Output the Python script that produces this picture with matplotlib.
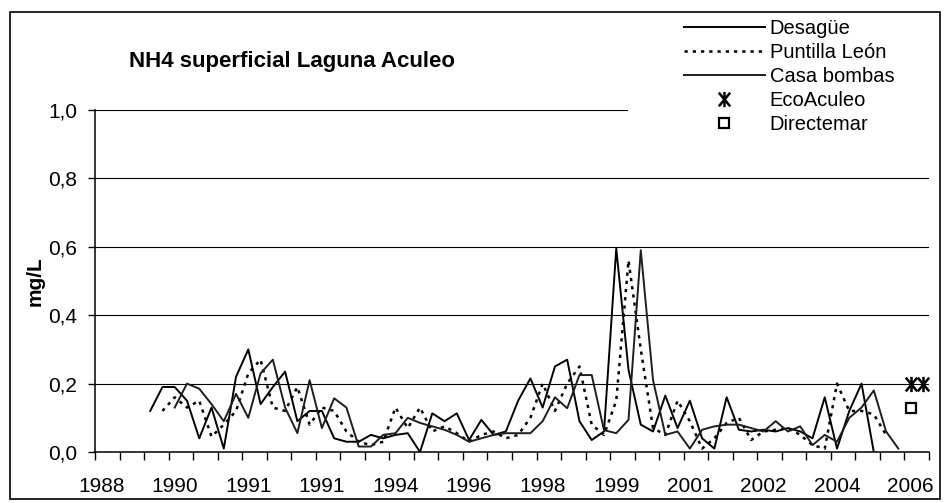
import numpy as np
import matplotlib
matplotlib.use('Agg')
import matplotlib.pyplot as plt
from matplotlib.patches import Rectangle
from matplotlib.path import Path

plt.rcParams['font.family'] = ['Liberation Sans', 'DejaVu Sans']

nan = np.nan
n_cat = 68  # sampling dates (category axis)

# --- data (mg/L NH4), one value per sampling date, NaN = no sample ---
desague = [nan] * 4 + [
    0.12, 0.19, 0.19, 0.15, 0.04, 0.13, 0.01, 0.22, 0.30, 0.14,
    0.19, 0.235, 0.09, 0.12, 0.12, 0.04, 0.03, 0.03, 0.05, 0.04,
    0.05, 0.055, 0.0, 0.113, 0.09, 0.113, 0.035, 0.094, 0.05, 0.06,
    0.15, 0.215, 0.13, 0.25, 0.27, 0.09, 0.035, 0.06, 0.595, 0.24,
    0.08, 0.06, 0.165, 0.07, 0.15, 0.04, 0.01, 0.16, 0.065, 0.06,
    0.065, 0.06, 0.07, 0.06, 0.04, 0.16, 0.01, 0.12, 0.20, 0.0,
] + [nan] * 4

puntilla = [nan] * 5 + [
    0.12, 0.16, 0.13, 0.15, 0.045, 0.08, 0.12, 0.23, 0.27, 0.13,
    0.12, 0.19, 0.08, 0.13, 0.12, 0.06, 0.03, 0.02, 0.03, 0.13,
    0.07, 0.13, 0.06, 0.075, 0.055, 0.03, 0.05, 0.06, 0.04, 0.05,
    0.10, 0.20, 0.12, 0.20, 0.25, 0.08, 0.05, 0.15, 0.56, 0.30,
    0.07, 0.05, 0.15, 0.09, 0.01, 0.04, 0.085, 0.10, 0.035, 0.06,
    0.065, 0.07, 0.05, 0.02, 0.01, 0.20, 0.12, 0.12, 0.11, 0.05,
] + [nan] * 3

casa_bombas = [nan] * 6 + [
    0.13, 0.20, 0.185, 0.14, 0.09, 0.17, 0.10, 0.23, 0.27, 0.13,
    0.055, 0.21, 0.07, 0.157, 0.13, 0.016, 0.016, 0.05, 0.055, 0.10,
    0.085, 0.075, 0.065, 0.05, 0.03, 0.04, 0.05, 0.055, 0.055, 0.055,
    0.09, 0.16, 0.128, 0.225, 0.225, 0.064, 0.055, 0.094, 0.59, 0.21,
    0.05, 0.06, 0.01, 0.065, 0.075, 0.08, 0.08, 0.07, 0.06, 0.09,
    0.06, 0.075, 0.02, 0.05, 0.03, 0.10, 0.13, 0.18, 0.06, 0.01,
] + [nan] * 2

eco_idx = [66, 67]
eco_vals = [0.20, 0.20]
dir_idx = [66]
dir_vals = [0.13]

year_labels = ['1988', '1990', '1991', '1991', '1994', '1996',
               '1998', '1999', '2001', '2002', '2004', '2006']
label_step = 6
y_ticks = [0.0, 0.2, 0.4, 0.6, 0.8, 1.0]

# asterisk-like marker: vertical bar crossed by an X
ast_marker = Path(
    [(0, -1), (0, 1), (-0.75, -0.9), (0.75, 0.9), (-0.75, 0.9), (0.75, -0.9)],
    [Path.MOVETO, Path.LINETO, Path.MOVETO, Path.LINETO, Path.MOVETO, Path.LINETO])

# --- figure ---
W, H = 944, 503
fig = plt.figure(figsize=(W / 100, H / 100), dpi=100)
ax = fig.add_axes([95 / W, 1 - 452 / H, 834 / W, 342 / H])

idx = np.arange(n_cat)
ax.plot(idx, desague, color='black', lw=1.4, label='Desagüe', zorder=3)
ax.plot(idx, puntilla, color='black', lw=1.8, ls=(0, (1.3, 2.0)),
        label='Puntilla León', zorder=3)
ax.plot(idx, casa_bombas, color='#1e1e1e', lw=1.4, label='Casa bombas', zorder=3)
ax.plot(eco_idx, eco_vals, ls='none', marker=ast_marker, ms=11, mew=1.8,
        color='black', label='EcoAculeo', zorder=4)
ax.plot(dir_idx, dir_vals, ls='none', marker='s', ms=6.5, mfc='white',
        mec='black', mew=1.6, label='Directemar', zorder=4)

ax.set_xlim(-0.5, n_cat - 0.5)
ax.set_ylim(0, 1.0)
ax.set_yticks(y_ticks)
ax.set_yticklabels([f'{v:.1f}'.replace('.', ',') for v in y_ticks])
ax.yaxis.grid(True, color='black', lw=0.8)
ax.set_axisbelow(True)

ax.set_xticks(np.arange(-0.5, n_cat, 2))
ax.set_xticklabels([])
ax.set_xticks(np.arange(0, n_cat, label_step), minor=True)
ax.set_xticklabels(year_labels, minor=True)

ax.tick_params(axis='y', direction='out', length=5, width=1, pad=8, labelsize=15)
ax.tick_params(axis='x', which='major', direction='out', length=6, width=1)
ax.tick_params(axis='x', which='minor', length=0, pad=18, labelsize=15)

for s in ['top', 'right']:
    ax.spines[s].set_visible(False)
for s in ['left', 'bottom']:
    ax.spines[s].set_color('black')
    ax.spines[s].set_linewidth(1.1)

ax.set_ylabel('mg/L', fontsize=15, fontweight='bold')
ax.yaxis.set_label_coords((45 - 95) / 834, 0.5)

fig.text(292 / W, 1 - 62 / H, 'NH4 superficial Laguna Aculeo', ha='center',
         va='center', fontsize=16, fontweight='bold')

# white legend background covering top gridline
ax.add_patch(Rectangle((628 / W, 1 - 133 / H), (940 - 628) / W, (133 - 15) / H,
                       transform=fig.transFigure, facecolor='white',
                       edgecolor='none', zorder=1.5, clip_on=False))

leg = ax.legend(loc='upper left', bbox_to_anchor=(684 / W, 1 - 19 / H),
                bbox_transform=fig.transFigure, frameon=False, fontsize=14.5,
                handlelength=4.0, handletextpad=0.25, labelspacing=0.25,
                borderpad=0, borderaxespad=0)

# outer chart frame
fig.add_artist(Rectangle((10 / W, 1 - 499 / H), (940 - 10) / W, (499 - 12) / H,
                         transform=fig.transFigure, fill=False,
                         edgecolor='black', lw=1.2))

fig.savefig('out.png', dpi=100)
